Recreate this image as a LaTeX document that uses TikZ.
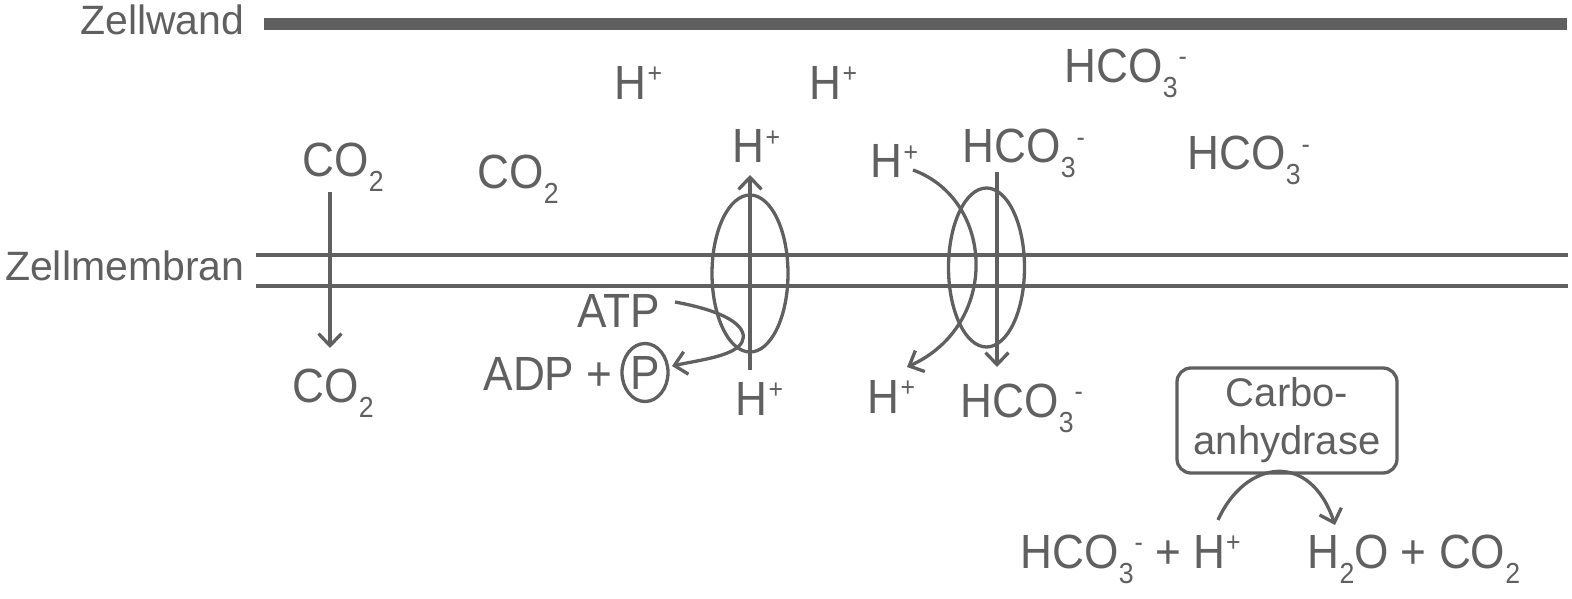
\documentclass[tikz,border=0pt]{standalone}
\usepackage{fontspec}
\setmainfont{Liberation Sans}
\newfontfamily\chemf[FakeStretch=0.92]{Liberation Sans}
\usetikzlibrary{arrows.meta,shapes.geometric}
\definecolor{ink}{RGB}{96,96,96}
\newcommand\lo[1]{\raisebox{-15pt}{\fontsize{29}{29}\selectfont #1}}
\newcommand\hi[1]{\kern1pt\raisebox{17pt}{\fontsize{27}{27}\selectfont #1}}
\begin{document}
\begin{tikzpicture}[x=1pt,y=-1pt,line width=3.3pt,color=ink,
  every node/.style={inner sep=0pt,text=ink},
  arr/.style={-{Straight Barb[length=12pt,width=23pt]}},
  chem/.style={font=\chemf\fontsize{48}{48}\selectfont,anchor=base west},
  lbl/.style={font=\fontsize{41}{41}\selectfont,anchor=base east},
  prot/.style={draw,ellipse,line width=3.3pt,minimum width=76pt,minimum height=157pt}]
\useasboundingbox (0,0) rectangle (1572,599);

% labels and layers
\node[lbl] (zw) at (246,35) {Zellwand};
\node[lbl] (zm) at (246,280) {Zellmembran};
\draw[line width=12pt] (264,24) -- (1567,24);
\draw (256,255) -- (1568,255);
\draw (256,286) -- (1568,286);

% outside
\node[chem] (hT1) at (613,100) {H\hi{+}};
\node[chem] (hT2) at (808,100) {H\hi{+}};
\node[chem] (bT1) at (1063,83) {HCO\lo{3}\hi{-}};
\node[chem] (bT2) at (1186,170) {HCO\lo{3}\hi{-}};
\node[chem] (co2a) at (301,176) {CO\lo{2}};
\node[chem] (co2b) at (476,188) {CO\lo{2}};
\node[chem] (hP1) at (731,163) {H\hi{+}};
\node[chem] (hA1) at (869,178) {H\hi{+}};
\node[chem] (bA1) at (961,163) {HCO\lo{3}\hi{-}};

% inside
\node[chem] (co2c) at (291,402) {CO\lo{2}};
\node[chem] (atp) at (576,327) {ATP};
\node[chem] (adp) at (482,390) {ADP +};
\node[draw,ellipse,line width=3.3pt,minimum width=46pt,minimum height=58pt,
      font=\chemf\fontsize{48}{48}\selectfont] (pc) at (645,372.5) {P};
\node[chem] (hP2) at (734,415) {H\hi{+}};
\node[chem] (hA2) at (866,413) {H\hi{+}};
\node[chem] (bA2) at (959,417) {HCO\lo{3}\hi{-}};

% CO2 diffusion
\coordinate (cS) at (330,192);
\coordinate (cE) at (330,348);
\draw[arr] (cS) -- (cE);

% proton pump
\node[prot] (pump) at (750,273.5) {};
\coordinate (pS) at (750,370);
\coordinate (pE) at (750,175);
\draw[arr] (pS) -- (pE);
\coordinate (atpS) at (675,302);
\coordinate (atpM) at (742,342);
\coordinate (atpE) at (672,366);
\draw[arr] (atpS) .. controls (735,313) and (748,330) .. (atpM)
  .. controls (735,356) and (700,360) .. (atpE);

% antiporter
\node[prot,minimum height=159pt] (anti) at (986.5,267.5) {};
\coordinate (aS) at (997,172);
\coordinate (aE) at (997,367);
\draw[arr] (aS) -- (aE);
\coordinate (hS) at (913,170);
\coordinate (hE) at (907,367);
\draw[arr] (hS) .. controls (995,200) and (1000,325) .. (hE);

% carboanhydrase
\node[draw,line width=3.3pt,rounded corners=14pt,minimum width=220pt,minimum height=105pt,
      align=center,font=\fontsize{40}{48}\selectfont] (ca) at (1287,420.5) {Carbo-\\anhydrase};
\node[chem] (eq1) at (1019,568) {HCO\lo{3}\hi{-} + H\hi{+}};
\node[chem] (eq2) at (1306,568) {H\lo{2}O + CO\lo{2}};
\coordinate (kS) at (1218,520);
\coordinate (kE) at (1335,525);
\draw[arr] (kS) .. controls (1245,460) and (1310,450) .. (kE);
\end{tikzpicture}
\end{document}
